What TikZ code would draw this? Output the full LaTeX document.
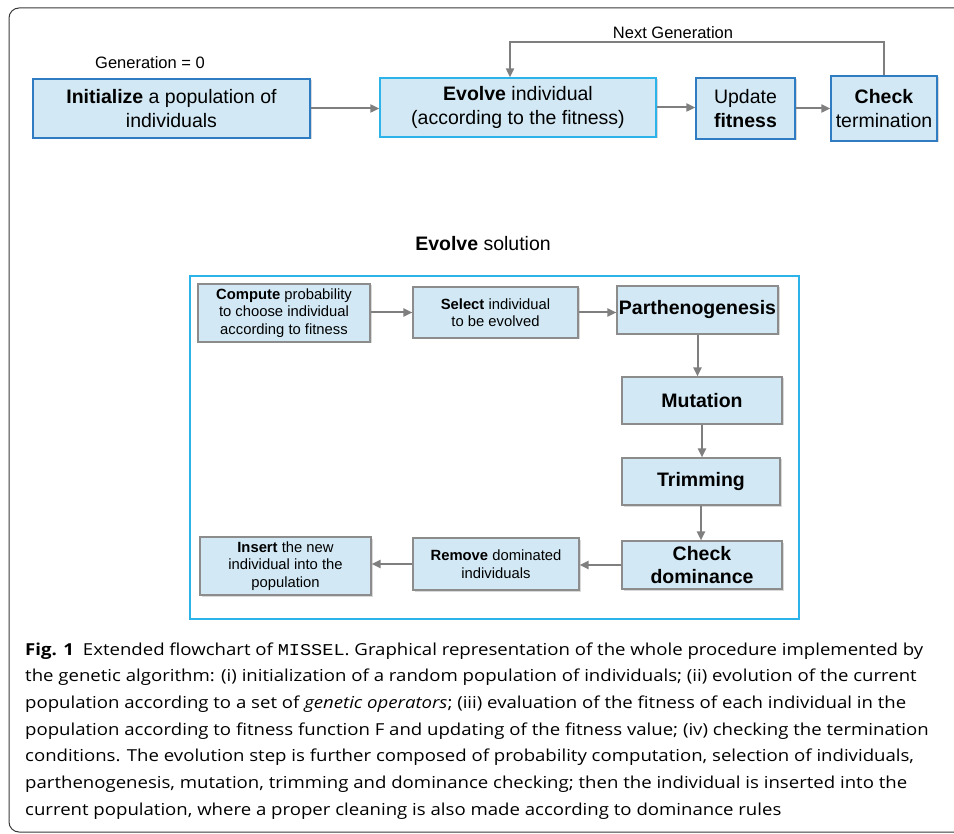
\documentclass[tikz,border=0pt]{standalone}
\usepackage{fontspec}
\setmainfont{Liberation Sans}
\newfontfamily\capfont{Open Sans}
\newfontfamily\capmono{Liberation Mono}
\usetikzlibrary{arrows.meta,shadows}
\definecolor{boxfill}{HTML}{D2E9F5}
\definecolor{darkblue}{HTML}{2F7CC2}
\definecolor{cyanb}{HTML}{2CB3EA}
\definecolor{grayb}{HTML}{8C8C8C}
\definecolor{arrgray}{HTML}{7F7F7F}
\definecolor{framegray}{HTML}{3A3A3A}
\newcommand\capsize{\fontsize{16.5}{20}\selectfont}
\newcommand\lineone{\textbf{Fig. 1}\hspace{8pt}Extended flowchart of {\capmono MISSEL}. Graphical representation of the whole procedure implemented by}
\newsavebox\capbox
\tikzset{
  x=1pt, y=-1pt,
  base/.style={fill=boxfill, align=center, inner sep=0pt, line width=1.3pt,
     drop shadow={shadow xshift=1.5pt, shadow yshift=-1.5pt, fill=black!25, opacity=0.6}},
  topbox/.style={base, draw=darkblue, font=\fontsize{19.5}{24}\selectfont},
  evbox/.style={base, draw=cyanb, font=\fontsize{19.5}{24}\selectfont},
  inbox/.style={base, draw=grayb, line width=1.1pt, font=\fontsize{14.8}{17.5}\selectfont},
  bigin/.style={inbox, font=\bfseries\fontsize{19.5}{23}\selectfont},
  arr/.style={draw=arrgray, line width=2pt, -{Triangle[length=9pt,width=8pt]}},
  capline/.style={anchor=base west, inner sep=0pt, font=\capfont\capsize},
  lbl/.style={font=\fontsize{16.5}{20}\selectfont, inner sep=0pt},
}
\begin{document}
\sbox\capbox{\capfont\capsize\lineone}%
\pgfmathsetmacro\capfactor{898/\wd\capbox}%
\begin{tikzpicture}
\useasboundingbox (0,0) rectangle (954,834);
% outer frame
\draw[framegray, line width=1pt, rounded corners=10pt] (960,8) -- (9,8) -- (9,832) -- (960,832);

% top row
\node[topbox, minimum width=277pt, minimum height=59pt] (init) at (171.5,108.5)
  {\textbf{Initialize} a population of\\individuals};
\node[evbox, minimum width=276pt, minimum height=59pt] (evolve) at (518,107.5)
  {\textbf{Evolve} individual\\(according to the fitness)};
\node[topbox, minimum width=99pt, minimum height=61pt] (update) at (745.5,108.5)
  {Update\\\textbf{fitness}};
\node[topbox, minimum width=106pt, minimum height=65pt] (check) at (884,108.5)
  {\textbf{Check}\\termination};

\node[lbl] (gen0) at (150,63) {Generation = 0};
\node[lbl] (nextgen) at (673,33) {Next Generation};

\coordinate (rt) at (884,42);
\coordinate (lt) at (510,42);
\draw[arr] (init.east) -- (init.east -| evolve.west);
\draw[arr] (evolve.east) -- (evolve.east -| update.west);
\draw[arr] (update.east) -- (update.east -| check.west);
\draw[arr] (check.north) -- (rt) -- (lt) -- (lt |- evolve.north);

% evolve solution
\node[font=\fontsize{19.5}{23}\selectfont, inner sep=0pt] (title) at (483,244) {\textbf{Evolve} solution};
\node[draw=cyanb, line width=1.8pt, minimum width=609pt, minimum height=343pt, inner sep=0pt] (frame) at (494.5,447.5) {};

\node[inbox, minimum width=172pt, minimum height=58pt] (compute) at (284,313)
  {\textbf{Compute} probability\\to choose individual\\according to fitness};
\node[inbox, minimum width=165pt, minimum height=51pt] (select) at (495.5,312.5)
  {\textbf{Select} individual\\to be evolved};
\node[bigin, minimum width=161pt, minimum height=48pt] (parth) at (697.5,310) {Parthenogenesis};
\node[bigin, minimum width=160pt, minimum height=47pt] (mut) at (702,400.5) {Mutation};
\node[bigin, minimum width=158pt, minimum height=47pt] (trim) at (701,481.5) {Trimming};
\node[bigin, minimum width=160pt, minimum height=48pt] (dom) at (702,565) {Check\\dominance};
\node[inbox, minimum width=166pt, minimum height=52pt] (remove) at (496,564)
  {\textbf{Remove} dominated\\individuals};
\node[inbox, minimum width=171pt, minimum height=58pt] (insert) at (285.5,566)
  {\textbf{Insert} the new\\individual into the\\population};

\draw[arr] (compute.east |- select.west) -- (select.west);
\draw[arr] (select.east) -- (select.east -| parth.west);
\draw[arr] (parth.south) -- (parth.south |- mut.north);
\draw[arr] (mut.south) -- (mut.south |- trim.north);
\draw[arr] (trim.south) -- (trim.south |- dom.north);
\draw[arr] (dom.west) -- (dom.west -| remove.east);
\draw[arr] (remove.west) -- (remove.west -| insert.east);

% caption
\node[capline] (c1) at (25,655) {\scalebox{\capfactor}[1]{\lineone}};
\node[capline] (c2) at (25,681.7) {\scalebox{\capfactor}[1]{the genetic algorithm: (i) initialization of a random population of individuals; (ii) evolution of the current}};
\node[capline] (c3) at (25,708.3) {\scalebox{\capfactor}[1]{population according to a set of \textit{genetic operators}; (iii) evaluation of the fitness of each individual in the}};
\node[capline] (c4) at (25,735) {\scalebox{\capfactor}[1]{population according to fitness function F and updating of the fitness value; (iv) checking the termination}};
\node[capline] (c5) at (25,761.7) {\scalebox{\capfactor}[1]{conditions. The evolution step is further composed of probability computation, selection of individuals,}};
\node[capline] (c6) at (25,788.3) {\scalebox{\capfactor}[1]{parthenogenesis, mutation, trimming and dominance checking; then the individual is inserted into the}};
\node[capline] (c7) at (25,815) {\scalebox{\capfactor}[1]{current population, where a proper cleaning is also made according to dominance rules}};
\end{tikzpicture}
\end{document}
